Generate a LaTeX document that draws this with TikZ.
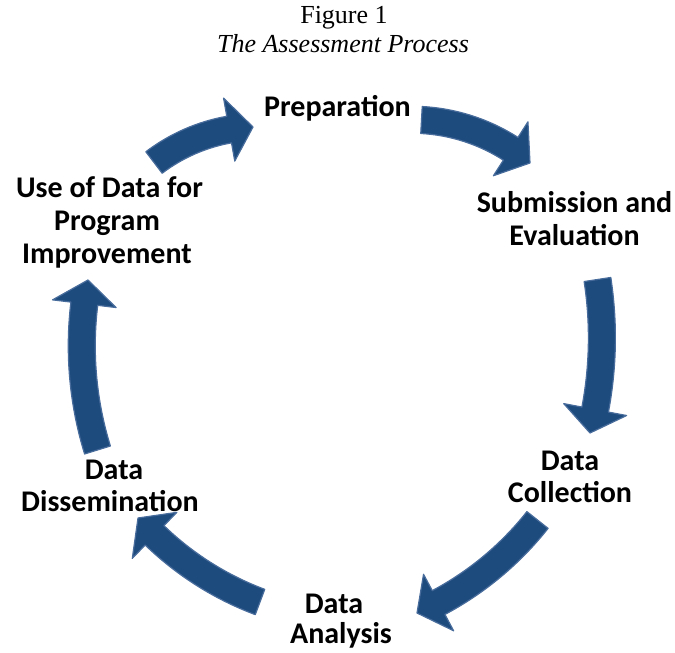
\documentclass[tikz,border=0pt]{standalone}
\usepackage{fontspec}
\setmainfont{Liberation Serif}
\newfontfamily\labfont{Carlito}
\usetikzlibrary{calc}
\definecolor{arrowblue}{RGB}{30,75,126}
\definecolor{arrowedge}{RGB}{72,108,155}
\newcommand\cycsw{13.5}% half shaft width
\newcommand\cychw{32}% half head width
\newcommand\cychl{24}% head length
% #1 tail coordinate, #2 tip coordinate, #3 arc angle of the centre line (clockwise)
\newcommand\drawcyc[3]{%
  \filldraw[cycfill] let \p1=(#1), \p2=(#2),
    \n1={veclen(\x2-\x1,\y2-\y1)/2},
    \n2={atan2(\y2-\y1,\x2-\x1)},
    \n3={\n1/sin(#3/2)},
    \n4={\n1/tan(#3/2)},
    \p3=($(\p1)!0.5!(\p2)$),
    \p4=($(\p3)+({\n2-90}:{\n4})$),
    \n5={atan2(\y1-\y4,\x1-\x4)},
    \n6={\n5-#3+(\cychl/\n3)*180/pi}
  in ($(\p4)+({\n5}:{\n3+\cycsw})$)
     arc[start angle=\n5, end angle=\n6, radius={\n3+\cycsw}]
     -- ($(\p4)+({\n6}:{\n3+\cychw})$)
     -- (\p2)
     -- ($(\p4)+({\n6}:{\n3-\cychw})$)
     -- ($(\p4)+({\n6}:{\n3-\cycsw})$)
     arc[start angle=\n6, end angle=\n5, radius={\n3-\cycsw}]
     -- cycle;}
\begin{document}
\begin{tikzpicture}[x=1pt,y=1pt,
  lab/.style={font=\labfont\bfseries\fontsize{30}{33}\selectfont, inner sep=0pt, anchor=base},
  ttl/.style={font=\fontsize{26}{29}\selectfont, inner sep=0pt, anchor=base},
  cycfill/.style={fill=arrowblue, draw=arrowedge, line width=1.2pt, line join=round}
]
\useasboundingbox (0,0) rectangle (675,653);
% title
\node[ttl] (fig) at (344,629) {Figure 1};
\node[ttl, font=\itshape\fontsize{26}{29}\selectfont] (title) at (343,600) {The Assessment Process};
% labels
\node[lab] (prep) at (337.5,536) {Preparation};
\node[lab] (sub1) at (574.5,440) {Submission and};
\node[lab] (sub2) at (574.5,407) {Evaluation};
\node[lab] (col1) at (570,182) {Data};
\node[lab] (col2) at (570,150) {Collection};
\node[lab] (ana1) at (334,39) {Data};
\node[lab] (ana2) at (341,9) {Analysis};
\node[lab] (dis1) at (114,173) {Data};
\node[lab] (dis2) at (110,141) {Dissemination};
\node[lab] (use1) at (109.5,455) {Use of Data for};
\node[lab] (use2) at (107,422) {Program};
\node[lab] (use3) at (107,389) {Improvement};
% arrow ends
\coordinate (t1) at (154,490.5); \coordinate (h1) at (253,526);
\coordinate (t2) at (421.5,533); \coordinate (h2) at (530,490);
\coordinate (t3) at (597.5,373.5); \coordinate (h3) at (590,220);
\coordinate (t4) at (537.5,133); \coordinate (h4) at (417,40);
\coordinate (t5) at (260,51); \coordinate (h5) at (138,135);
\coordinate (t6) at (97.5,203); \coordinate (h6) at (88,373);
\drawcyc{t1}{h1}{35}
\drawcyc{t2}{h2}{37}
\drawcyc{t3}{h3}{23}
\drawcyc{t4}{h4}{28}
\drawcyc{t5}{h5}{28}
\drawcyc{t6}{h6}{28}
\end{tikzpicture}
\end{document}
